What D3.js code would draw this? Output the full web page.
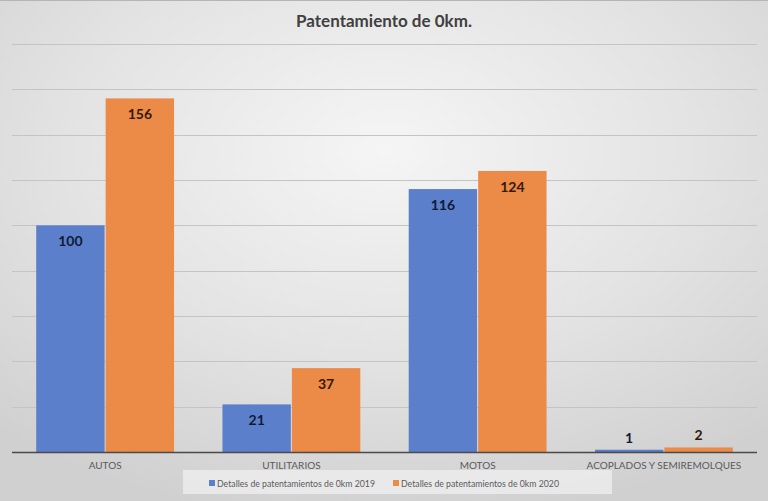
<!DOCTYPE html>
<html>
<head>
<meta charset="utf-8">
<script src="https://cdn.jsdelivr.net/npm/d3@7"></script>
<style>
  html, body { margin: 0; padding: 0; }
  svg { display: block; }
</style>
</head>
<body>
<svg id="chart" width="768" height="501"></svg>
<script>
const categories = ['AUTOS', 'UTILITARIOS', 'MOTOS', 'ACOPLADOS Y SEMIREMOLQUES'];
const seriesNames = ['Detalles de patentamientos de 0km 2019', 'Detalles de patentamientos de 0km 2020'];
const values2019 = [100, 21, 116, 1];
const values2020 = [156, 37, 124, 2];
const yTicks = [0, 20, 40, 60, 80, 100, 120, 140, 160, 180];

const colors = ['#5b7fcb', '#ec8a47'];
const labelColors = ['#111a33', '#33190a'];
const width = 768, height = 501;
const margin = { top: 44, right: 11, bottom: 49, left: 12 };

const svg = d3.select('#chart');

// background: light centre fading to grey at the edges
const defs = svg.append('defs');
const grad = defs.append('radialGradient')
  .attr('id', 'bg')
  .attr('cx', '50%').attr('cy', '30%').attr('r', '75%');
grad.append('stop').attr('offset', '0%').attr('stop-color', '#f5f5f5');
grad.append('stop').attr('offset', '55%').attr('stop-color', '#e3e3e3');
grad.append('stop').attr('offset', '100%').attr('stop-color', '#d0d0d0');

svg.append('rect')
  .attr('width', width).attr('height', height)
  .attr('fill', 'url(#bg)');
svg.append('line')
  .attr('x1', 0).attr('x2', width).attr('y1', 0.5).attr('y2', 0.5)
  .attr('stroke', '#b5b5b5');

const x = d3.scaleBand()
  .domain(categories)
  .range([margin.left, width - margin.right])
  .paddingInner(0.26)
  .paddingOuter(0.13);

const xSub = d3.scaleBand()
  .domain([0, 1])
  .range([0, x.bandwidth()])
  .paddingInner(0.015);

const y = d3.scaleLinear()
  .domain([0, 180])
  .range([height - margin.bottom, margin.top]);

// gridlines
svg.append('g')
  .selectAll('line')
  .data(yTicks.slice(1))
  .join('line')
  .attr('x1', margin.left)
  .attr('x2', width - margin.right)
  .attr('y1', (d) => Math.round(y(d)) + 0.5)
  .attr('y2', (d) => Math.round(y(d)) + 0.5)
  .attr('stroke', '#c4c4c4')
  .attr('stroke-width', 1.2);

// bars
const series = [values2019, values2020];
const groups = svg.append('g')
  .selectAll('g')
  .data(categories)
  .join('g')
  .attr('transform', (d) => `translate(${x(d)},0)`);

groups.selectAll('rect')
  .data((d, i) => series.map((s, k) => ({ k, v: s[i] })))
  .join('rect')
  .attr('x', (d) => xSub(d.k))
  .attr('width', xSub.bandwidth())
  .attr('y', (d) => y(d.v))
  .attr('height', (d) => y(0) - y(d.v))
  .attr('fill', (d) => colors[d.k]);

groups.selectAll('text')
  .data((d, i) => series.map((s, k) => ({ k, v: s[i] })))
  .join('text')
  .attr('x', (d) => xSub(d.k) + xSub.bandwidth() / 2)
  .attr('y', (d) => (y(0) - y(d.v) > 30 ? y(d.v) + 21 : y(d.v) - 7))
  .attr('text-anchor', 'middle')
  .attr('font-family', 'Lato, "Open Sans", sans-serif')
  .attr('font-weight', 'bold')
  .attr('font-size', 14)
  .attr('fill', (d) => labelColors[d.k])
  .text((d) => d.v);

// axis line
svg.append('line')
  .attr('x1', margin.left)
  .attr('x2', width - margin.right)
  .attr('y1', y(0) + 0.5)
  .attr('y2', y(0) + 0.5)
  .attr('stroke', '#4a4a4a')
  .attr('stroke-width', 1.5);

// category labels
const xAxis = svg.append('g')
  .attr('transform', `translate(0,${y(0)})`)
  .call(d3.axisBottom(x).tickSize(0).tickPadding(10));
xAxis.select('.domain').remove();
xAxis.selectAll('text')
  .attr('font-family', 'Lato, "Open Sans", sans-serif')
  .attr('font-size', 10)
  .attr('fill', '#5a5a5a');

// title
svg.append('text')
  .attr('x', width / 2)
  .attr('y', 27)
  .attr('text-anchor', 'middle')
  .attr('font-family', 'Lato, "Open Sans", sans-serif')
  .attr('font-weight', 'bold')
  .attr('font-size', 17)
  .attr('fill', '#404040')
  .text('Patentamiento de 0km.');

// legend
const legend = svg.append('g');
legend.append('rect')
  .attr('x', 183).attr('y', 470)
  .attr('width', 429).attr('height', 24)
  .attr('fill', '#ececec')
  .attr('opacity', 0.85);

const legendX = [209, 393];
const items = legend.selectAll('g')
  .data(seriesNames)
  .join('g')
  .attr('transform', (d, i) => `translate(${legendX[i]},483)`);
items.append('rect')
  .attr('x', 0).attr('y', -3)
  .attr('width', 6).attr('height', 6)
  .attr('fill', (d, i) => colors[i]);
items.append('text')
  .attr('x', 8)
  .attr('y', 3.5)
  .attr('font-family', 'Lato, "Open Sans", sans-serif')
  .attr('font-size', 10)
  .attr('textLength', 158)
  .attr('lengthAdjust', 'spacingAndGlyphs')
  .attr('fill', '#5a5a5a')
  .text((d) => d);
</script>
</body>
</html>
